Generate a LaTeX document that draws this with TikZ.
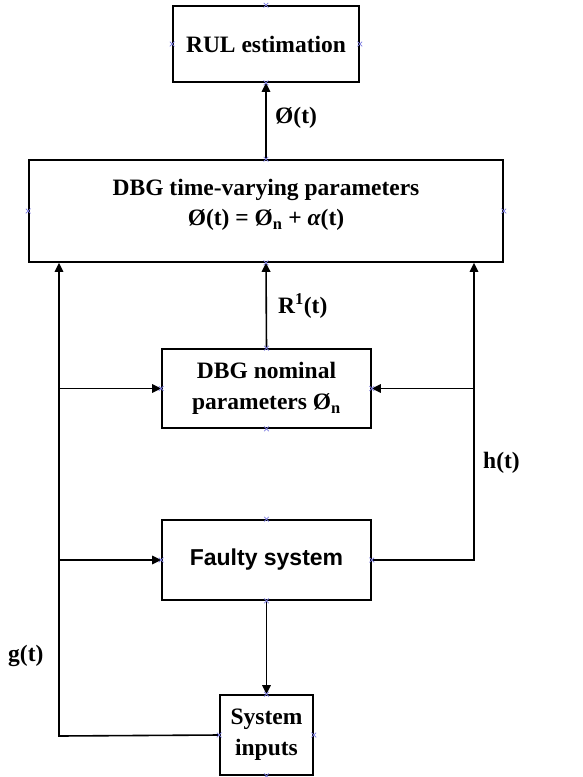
\documentclass[tikz,border=0pt]{standalone}
\usepackage{fontspec}
\setmainfont{Liberation Serif}
\newfontfamily\arialfont{Liberation Sans}
\usetikzlibrary{arrows.meta,shapes.misc}
\definecolor{cpc}{RGB}{125,125,225}
\tikzset{
  blk/.style={draw, line width=1.6pt, inner sep=0pt, align=center,
    font=\fontsize{23.5}{31}\selectfont\bfseries},
  ln/.style={line width=1.6pt},
  arr/.style={ln, -{Triangle[length=9pt,width=8.5pt]}},
  lbl/.style={inner sep=0pt, anchor=west, font=\fontsize{23.5}{28}\selectfont\bfseries},
  xmark/.style={cross out, draw=cpc, line width=0.7pt, minimum size=4pt, inner sep=0pt}
}
\begin{document}
\begin{tikzpicture}[x=1pt,y=-1pt]
\useasboundingbox (0,0) rectangle (582,777);
% blocks
\node[blk, minimum width=186pt, minimum height=76pt] (rul) at (266,44) {RUL estimation};
\node[blk, minimum width=474pt, minimum height=102pt] (tv) at (266,211) {};
\node[inner sep=0pt, align=center, font=\fontsize{23.5}{31}\selectfont\bfseries] (tvt) at (266,205)
  {DBG time-varying parameters\\[-1pt] Ø(t) = Ø\textsubscript{n} + {\itshape α}(t)};
\node[blk, minimum width=209pt, minimum height=79pt] (nom) at (266.5,388.5)
  {DBG nominal\\ parameters Ø\textsubscript{n}};
\node[blk, minimum width=209pt, minimum height=80pt, font=\fontsize{23}{28}\selectfont\bfseries\arialfont] (fs) at (266.5,560) {Faulty system};
\node[blk, minimum width=93pt, minimum height=80pt] (si) at (266.5,735) {System\\ inputs};
% helper coordinates
\coordinate (gl) at (59,736);
\coordinate (hr) at (474,560);
% connectors
\draw[arr] (tv.north) -- (rul.south);
\draw[arr] (nom.north) -- (tv.south);
\draw[arr] (fs.south) -- (si.north);
\draw[arr] (si.west) -- (gl) -- (gl |- tv.south);
\draw[arr] (gl |- nom.west) -- (nom.west);
\draw[arr] (gl |- fs.west) -- (fs.west);
\draw[arr] (fs.east) -- (hr) -- (hr |- tv.south);
\draw[arr] (hr |- nom.east) -- (nom.east);
% labels
\node[lbl] (l1) at (275,118) {Ø(t)};
\node[lbl] (l2) at (278,306) {R\textsuperscript{1}(t)};
\node[lbl] (l3) at (483,463) {h(t)};
\node[lbl] (l4) at (8,656) {g(t)};
% connection point marks
\foreach \n in {rul,tv,nom,fs,si}
  \foreach \a in {north,south,east,west}
    \node[xmark] (x-\n-\a) at (\n.\a) {};
\end{tikzpicture}
\end{document}
